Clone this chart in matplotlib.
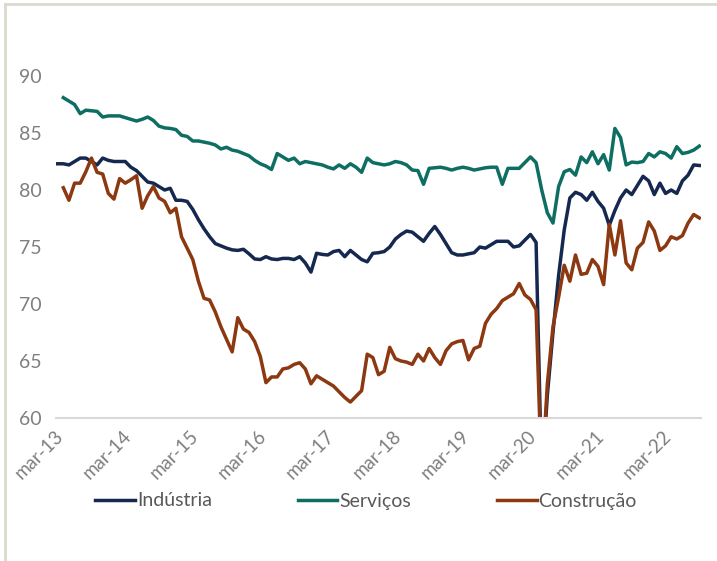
import numpy as np
import pandas as pd
import matplotlib
matplotlib.use("Agg")
import matplotlib.pyplot as plt
from matplotlib.lines import Line2D
from matplotlib.transforms import ScaledTranslation

nan = np.nan

# monthly categories, feb-13 .. aug-22
months = pd.date_range("2013-02-01", "2022-08-01", freq="MS")

industria = [
    82.3, 82.3, 82.2, 82.5, 82.8, 82.8, 82.5, 82.2, 82.8, 82.6,
    82.5, 82.5, 82.5, 82.0, 81.7, 81.2, 80.7, 80.6, 80.3, 80.0,
    80.15, 79.1, 79.1, 79.0, 78.3, 77.4, 76.6, 75.9, 75.3, 75.1,
    74.9, 74.75, 74.7, 74.8, 74.4, 73.95, 73.9, 74.15, 73.95, 73.9,
    74.0, 74.0, 73.9, 74.15, 73.6, 72.8, 74.45, 74.35, 74.3, 74.6,
    74.7, 74.15, 74.7, 74.3, 73.9, 73.7, 74.45, 74.5, 74.6, 75.0,
    75.7, 76.1, 76.4, 76.3, 75.9, 75.5, 76.2, 76.8, 76.1, 75.3,
    74.5, 74.3, 74.3, 74.4, 74.5, 75.0, 74.9, 75.2, 75.5, 75.5,
    75.5, 75.0, 75.1, 75.6, 76.1, 75.4, 54.5, 62.0, 67.5, 72.5,
    76.5, 79.3, 79.8, 79.6, 79.1, 79.8, 79.0, 78.4, 76.9, 78.2,
    79.3, 80.0, 79.6, 80.4, 81.2, 80.8, 79.6, 80.6, 79.7, 80.0,
    79.7, 80.8, 81.3, 82.2, 82.15,
]

servicos = [
    nan, 88.1, 87.8, 87.5, 86.7, 87.0, 86.95, 86.9, 86.4, 86.5,
    86.5, 86.5, 86.35, 86.2, 86.05, 86.2, 86.4, 86.1, 85.6, 85.45,
    85.4, 85.3, 84.8, 84.7, 84.3, 84.3, 84.2, 84.1, 83.95, 83.6,
    83.75, 83.5, 83.4, 83.2, 83.0, 82.6, 82.3, 82.1, 81.8, 83.2,
    82.9, 82.6, 82.8, 82.3, 82.5, 82.4, 82.3, 82.2, 82.0, 81.85,
    82.2, 81.9, 82.3, 82.0, 81.55, 82.8, 82.4, 82.3, 82.2, 82.3,
    82.5, 82.4, 82.2, 81.75, 81.7, 80.5, 81.9, 81.95, 82.0, 81.9,
    81.75, 81.9, 82.0, 81.9, 81.75, 81.85, 81.95, 82.0, 82.0, 80.5,
    81.9, 81.9, 81.9, 82.4, 82.9, 82.4, 80.0, 78.0, 77.1, 80.3,
    81.6, 81.8, 81.3, 82.9, 82.4, 83.35, 82.3, 83.1, 81.75, 85.4,
    84.6, 82.2, 82.45, 82.4, 82.5, 83.2, 82.9, 83.35, 83.2, 82.8,
    83.8, 83.2, 83.3, 83.5, 83.85,
]

construcao = [
    nan, 80.2, 79.1, 80.6, 80.6, 81.6, 82.8, 81.55, 81.4, 79.7,
    79.2, 81.0, 80.6, 80.9, 81.25, 78.4, 79.5, 80.3, 79.3, 79.0,
    78.0, 78.4, 75.9, 74.9, 73.9, 72.0, 70.5, 70.35, 69.3, 68.0,
    66.9, 65.8, 68.8, 67.8, 67.5, 66.7, 65.4, 63.1, 63.6, 63.6,
    64.3, 64.4, 64.7, 64.85, 64.3, 63.0, 63.7, 63.4, 63.1, 62.8,
    62.3, 61.8, 61.4, 61.9, 62.4, 65.6, 65.3, 63.8, 64.1, 66.2,
    65.2, 65.0, 64.9, 64.7, 65.6, 65.0, 66.1, 65.3, 64.7, 65.9,
    66.5, 66.7, 66.8, 65.1, 66.1, 66.3, 68.3, 69.1, 69.6, 70.3,
    70.6, 70.9, 71.8, 70.8, 70.4, 69.5, 54.5, 63.0, 68.0, 70.6,
    73.4, 72.0, 74.3, 72.6, 72.7, 73.9, 73.3, 71.7, 77.0, 74.3,
    77.3, 73.6, 73.0, 74.9, 75.4, 77.2, 76.4, 74.7, 75.1, 75.9,
    75.7, 76.0, 77.1, 77.85, 77.55,
]

series_names = ["Indústria", "Serviços", "Construção"]
colors = ["#15284f", "#0f6e63", "#8c3810"]

plt.rcParams["font.family"] = ["Lato", "DejaVu Sans"]

fig = plt.figure(figsize=(7.17, 5.61), dpi=100)
ax = fig.add_axes([56 / 717, 1 - 418 / 561, 645 / 717, 342 / 561])

x = np.arange(len(months))
for vals, name, c in zip([industria, servicos, construcao], series_names, colors):
    ax.plot(x, vals, color=c, lw=2.5, label=name, solid_joinstyle="round")

ax.set_ylim(60, 90)
ax.set_xlim(-0.3, len(months) - 0.7)
ax.set_yticks([60, 65, 70, 75, 80, 85, 90])

# ticks every march
tick_pos = [i for i, m in enumerate(months) if m.month == 3]
tick_lab = ["mar-" + m.strftime("%y") for m in months if m.month == 3]
ax.set_xticks(tick_pos)
ax.set_xticklabels(tick_lab, rotation=45, ha="right", va="top",
                   rotation_mode="anchor")

gray = "#7f7f7f"
ax.tick_params(axis="both", length=0, labelcolor=gray)
ax.tick_params(axis="y", pad=10, labelsize=14)
ax.tick_params(axis="x", pad=7, labelsize=13.5)
shift = ScaledTranslation(-6 / 72, 0, fig.dpi_scale_trans)
for lab in ax.get_xticklabels():
    lab.set_transform(lab.get_transform() + shift)

for s in ["top", "right", "left"]:
    ax.spines[s].set_visible(False)
ax.spines["bottom"].set_color("#d9d9d9")
ax.spines["bottom"].set_linewidth(1.5)

fig.legend(loc="center", bbox_to_anchor=(366 / 717, 1 - 501 / 561), ncol=3,
           frameon=False, fontsize=14, handlelength=2.05, handletextpad=0.1,
           columnspacing=4.4, labelcolor="#595959")

# outer frame lines (top and left)
border = "#dcd9cf"
fig.add_artist(Line2D([5 / 717, 5 / 717], [0, 1 - 4 / 561], color=border,
                      lw=2, transform=fig.transFigure))
fig.add_artist(Line2D([5 / 717, 1], [1 - 4 / 561, 1 - 4 / 561], color=border,
                      lw=2, transform=fig.transFigure))

fig.savefig("out.png", dpi=100)
